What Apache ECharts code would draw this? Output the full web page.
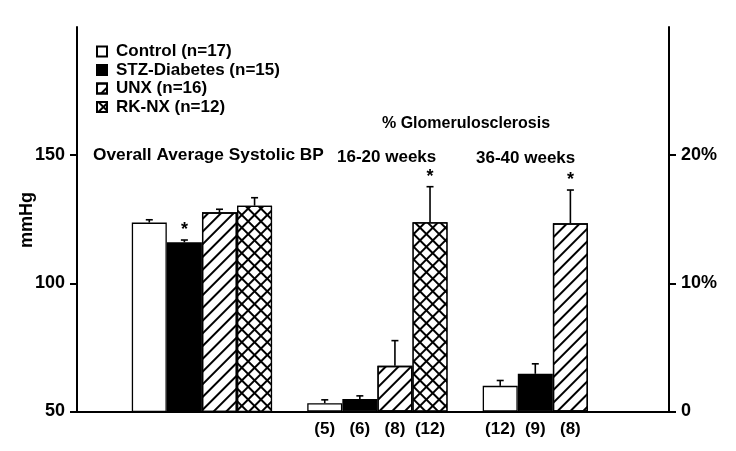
<!DOCTYPE html>
<html>
<head>
<meta charset="utf-8">
<script src="https://cdn.jsdelivr.net/npm/echarts@6/dist/echarts.min.js"></script>
<style>html,body{margin:0;padding:0;background:#fff}#c{width:736px;height:451px}</style>
</head>
<body>
<div id="c"></div>
<script>
// ---- data ----
const groupNames = ['Control (n=17)', 'STZ-Diabetes (n=15)', 'UNX (n=16)', 'RK-NX (n=12)'];
const bpMean = [123.7, 116.0, 127.7, 130.3];
const bpErr = [1.1, 0.9, 1.2, 3.1];
const bpSig = [0, 1, 0, 0];
const gs16Mean = [0.65, 0.97, 3.56, 14.76];
const gs16Err = [0.26, 0.25, 1.97, 2.78];
const gs16Sig = [0, 0, 0, 1];
const gs16N = ['(5)', '(6)', '(8)', '(12)'];
const gs36Mean = [2.0, 2.94, 14.68];
const gs36Err = [0.42, 0.78, 2.6];
const gs36Sig = [0, 0, 1];
const gs36N = ['(12)', '(9)', '(8)'];
const leftTicks = [50, 100, 150];
const rightTicks = [0, 10, 20];

// ---- layout (slot positions) ----
const bpStart = 0, gs16Start = 5, gs36Start = 10;
const FONT = 'Liberation Sans, Arial, Helvetica, sans-serif';

const decals = [
  null,
  null,
  {symbol: 'rect', symbolSize: 1, color: '#000', dashArrayX: [1, 0], dashArrayY: [1.3, 6.6], rotation: -Math.PI / 4},
  {symbol: 'rect', symbolSize: 1, color: '#fff', backgroundColor: '#000', dashArrayX: [6.6, 1.3], dashArrayY: [6.6, 1.3], rotation: Math.PI / 4}
];
const fills = ['#fff', '#000', '#fff', '#fff'];

const series = [];
const errBP = [], errGS = [];
for (let g = 0; g < 4; g++) {
  const style = {color: fills[g], borderColor: '#000', borderWidth: 1.3, decal: decals[g] || undefined};
  series.push({
    type: 'bar', name: groupNames[g], xAxisIndex: 0, yAxisIndex: 0,
    barWidth: 35, barGap: '-100%', itemStyle: style, silent: true,
    data: [[bpStart + g, bpMean[g]]]
  });
  errBP.push([bpStart + g, bpMean[g], bpErr[g], bpSig[g]]);
  const gsData = [];
  if (g < gs16Mean.length) {
    gsData.push({value: [gs16Start + g, gs16Mean[g]], label: {formatter: gs16N[g]}});
    errGS.push([gs16Start + g, gs16Mean[g], gs16Err[g], gs16Sig[g]]);
  }
  if (g < gs36Mean.length) {
    gsData.push({value: [gs36Start + g, gs36Mean[g]], label: {formatter: gs36N[g]}});
    errGS.push([gs36Start + g, gs36Mean[g], gs36Err[g], gs36Sig[g]]);
  }
  series.push({
    type: 'bar', name: groupNames[g], xAxisIndex: 0, yAxisIndex: 1,
    barWidth: 35, barGap: '-100%', itemStyle: style, silent: true,
    label: {show: true, position: 'bottom', distance: 9, color: '#000', fontFamily: FONT, fontWeight: 'bold', fontSize: 17},
    data: gsData
  });
}

function errRender(params, api) {
  const x = api.value(0), m = api.value(1), e = api.value(2), s = api.value(3);
  const p0 = api.coord([x, m]);
  const p1 = api.coord([x, m + e]);
  const children = [
    {type: 'line', shape: {x1: p0[0], y1: p0[1], x2: p1[0], y2: p1[1]}, style: {stroke: '#000', lineWidth: 1.6}},
    {type: 'line', shape: {x1: p1[0] - 3.5, y1: p1[1], x2: p1[0] + 3.5, y2: p1[1]}, style: {stroke: '#000', lineWidth: 1.6}}
  ];
  if (s) {
    children.push({type: 'text', x: p1[0], y: p1[1] - 1, style: {text: '*', fill: '#000', font: 'bold 18px ' + FONT, align: 'center', verticalAlign: 'bottom'}});
  }
  return {type: 'group', children: children};
}
series.push({type: 'custom', xAxisIndex: 0, yAxisIndex: 0, renderItem: errRender, data: errBP, silent: true, clip: false, z: 5});
series.push({type: 'custom', xAxisIndex: 0, yAxisIndex: 1, renderItem: errRender, data: errGS, silent: true, clip: false, z: 5});

const chart = echarts.init(document.getElementById('c'), null, {renderer: 'canvas'});
const axisLabelStyle = {color: '#000', fontFamily: FONT, fontWeight: 'bold', fontSize: 18};
chart.setOption({
  animation: false,
  backgroundColor: '#fff',
  grid: {left: 77, right: 67, top: 27, bottom: 39.5, containLabel: false, outerBoundsMode: 'none'},
  legend: {
    orient: 'vertical', left: 91, top: 38, icon: 'rect', itemWidth: 10, itemHeight: 10, itemGap: 1.5,
    data: groupNames, selectedMode: false,
    textStyle: {color: '#000', fontFamily: FONT, fontWeight: 'bold', fontSize: 17, padding: [0, 0, 0, 4]}
  },
  xAxis: {
    type: 'value', min: -2.06, max: 14.81,
    axisLine: {show: true, onZero: false, lineStyle: {color: '#000', width: 2}},
    axisTick: {show: false}, axisLabel: {show: false}, splitLine: {show: false}
  },
  yAxis: [
    {
      type: 'value', min: 50, max: 200, interval: 50, position: 'left',
      axisLine: {show: true, onZero: false, lineStyle: {color: '#000', width: 2}},
      axisTick: {show: true, inside: false, length: 7, customValues: leftTicks, lineStyle: {width: 2, color: '#000'}},
      axisLabel: Object.assign({customValues: leftTicks, margin: 12}, axisLabelStyle),
      splitLine: {show: false}
    },
    {
      type: 'value', min: 0, max: 30, interval: 10, position: 'right',
      axisLine: {show: true, onZero: false, lineStyle: {color: '#000', width: 2}},
      axisTick: {show: true, inside: false, length: 7, customValues: rightTicks, lineStyle: {width: 2, color: '#000'}},
      axisLabel: Object.assign({customValues: rightTicks, margin: 12, formatter: v => v === 0 ? '0' : v + '%'}, axisLabelStyle),
      splitLine: {show: false}
    }
  ],
  graphic: [
    {type: 'text', x: 27, y: 220, rotation: Math.PI / 2, style: {text: 'mmHg', fill: '#000', font: 'bold 18px ' + FONT, align: 'center', verticalAlign: 'middle'}},
    {type: 'text', left: 93, top: 147, style: {text: 'Overall Average Systolic BP', fill: '#000', font: 'bold 17.3px ' + FONT}},
    {type: 'text', left: 382, top: 116, style: {text: '% Glomerulosclerosis', fill: '#000', font: 'bold 16px ' + FONT}},
    {type: 'text', left: 337, top: 149, style: {text: '16-20 weeks', fill: '#000', font: 'bold 17px ' + FONT}},
    {type: 'text', left: 476, top: 150, style: {text: '36-40 weeks', fill: '#000', font: 'bold 17px ' + FONT}}
  ],
  series: series
});
</script>
</body>
</html>
